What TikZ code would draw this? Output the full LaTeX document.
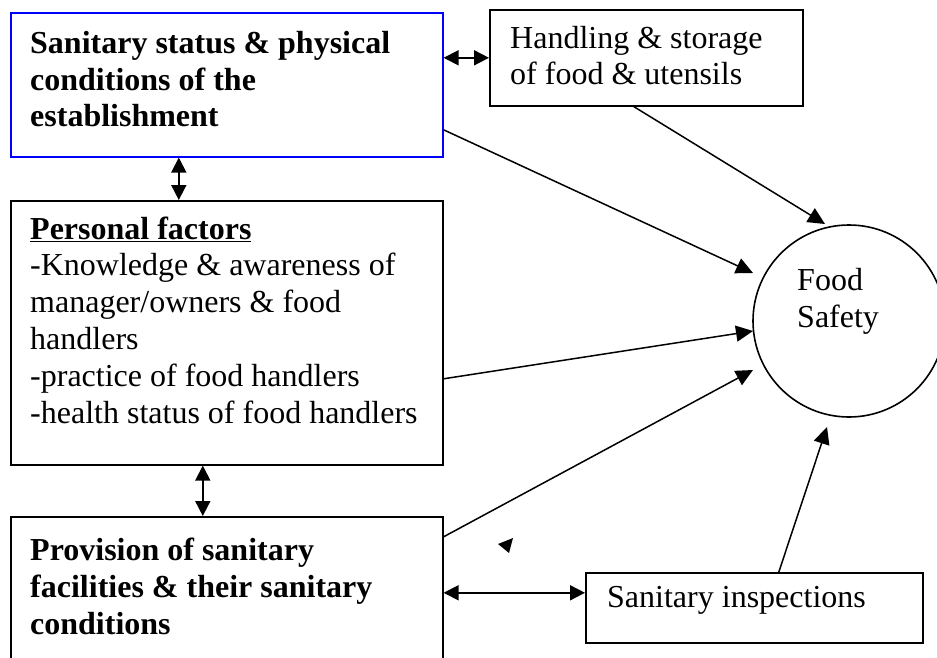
\documentclass[tikz,border=0pt]{standalone}
\usepackage{fontspec}
\setmainfont{Liberation Serif}
\usetikzlibrary{arrows.meta}
\begin{document}
\begin{tikzpicture}[x=1pt,y=-1pt,
  box/.style={draw, line width=1.6pt, inner sep=0pt, anchor=north west},
  lbl/.style={anchor=base west, inner sep=0pt, align=left, font=\fontsize{32}{36.8}\selectfont},
  arr/.style={-{Triangle[length=17pt,width=16pt]}, line width=1.5pt},
  dbl/.style={{Triangle[length=15pt,width=15pt]}-{Triangle[length=15pt,width=15pt]}, line width=1.8pt}]
\useasboundingbox (0,0) rectangle (937,658);
\clip (0,0) rectangle (937,658);
% boxes
\node[box, draw=blue, minimum width=432pt, minimum height=144pt] (b1) at (10,12) {};
\node[box, minimum width=313pt, minimum height=96pt] (b2) at (489,9) {};
\node[box, minimum width=432pt, minimum height=264pt] (b3) at (10,200) {};
\node[box, minimum width=432pt, minimum height=152pt] (b4) at (10,516) {};
\node[box, minimum width=337pt, minimum height=70pt] (b5) at (585,572) {};
\node[draw, circle, line width=1.6pt, minimum size=192pt, inner sep=0pt] (fs) at (849,321) {};
% texts (base anchor = baseline of the last line)
\node[lbl, font=\fontsize{32}{36.8}\selectfont\bfseries] (t1) at (30,127) {Sanitary status \& physical\\conditions of the\\establishment};
\node[lbl] (t2) at (510,85) {Handling \& storage\\of food \& utensils};
\node[lbl] (t3) at (30,423) {\underline{\textbf{Personal factors}}\\-Knowledge \& awareness of\\manager/owners \& food\\handlers\\-practice of food handlers\\-health status of food handlers};
\node[lbl, font=\fontsize{32}{36.8}\selectfont\bfseries] (t4) at (30,634) {Provision of sanitary\\facilities \& their sanitary\\conditions};
\node[lbl] (t5) at (607,607) {Sanitary inspections};
\node[lbl] (t6) at (797,327) {Food\\Safety};
% arrow tips near the circle
\coordinate (p1) at (753,273);
\coordinate (p2) at (825,224);
\coordinate (p3) at (753,331);
\coordinate (p4) at (753,370);
\coordinate (p5) at (827,427);
% double arrows
\draw[dbl] (b1.east |- b2.west) -- (b2.west);
\draw[dbl] ([xshift=-48pt]b1.south) -- ([xshift=-48pt]b3.north);
\draw[dbl] ([xshift=-24pt]b3.south) -- ([xshift=-24pt]b4.north);
\draw[dbl] (b4.east) -- (b4.east -| b5.west);
% arrows to food safety
\draw[arr] ([yshift=-45pt]b1.east) -- (p1);
\draw[arr] ([xshift=-12.5pt]b2.south) -- (p2);
\draw[arr] ([yshift=-46pt]b3.east) -- (p3);
\draw[arr] ([yshift=56pt]b4.east) -- (p4);
\draw[arr] ([xshift=24.5pt]b5.north) -- (p5);
% stray arrowhead
\fill (498,544) -- (513,538) -- (509,553) -- cycle;
\end{tikzpicture}
\end{document}
